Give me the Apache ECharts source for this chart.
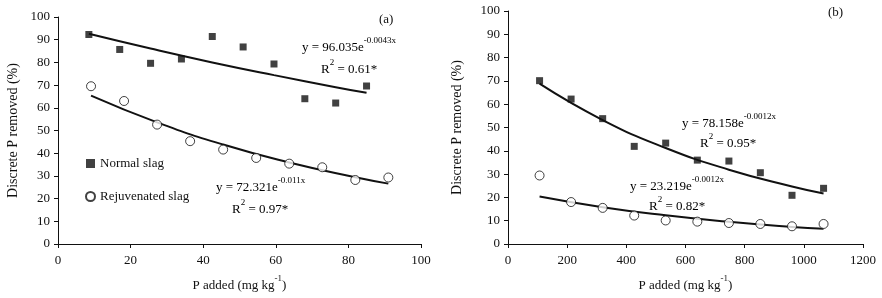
<!DOCTYPE html>
<html>
<head>
<meta charset="utf-8">
<script src="https://cdn.jsdelivr.net/npm/echarts@6/dist/echarts.min.js"></script>
<style>
  html, body { margin: 0; padding: 0; background: #fff; }
  #chart { width: 882px; height: 298px; }
</style>
</head>
<body>
<div id="chart"></div>
<script>
// (a) P added 0-100 mg/kg
const normalAX = [8.5, 17, 25.5, 34, 42.5, 51, 59.5, 68, 76.5, 85]
const normalAY = [92.3, 85.7, 79.6, 81.5, 91.4, 86.8, 79.3, 64.0, 62.1, 69.6]
const rejuvAX = [9.1, 18.2, 27.3, 36.4, 45.5, 54.6, 63.7, 72.8, 81.9, 91]
const rejuvAY = [69.5, 63.0, 52.6, 45.3, 41.6, 37.9, 35.4, 33.8, 28.2, 29.3]
// fitted curves as they appear on the figure
const fitNormalAX = [8.5, 25.5, 42.5, 59.5, 76.5, 85]
const fitNormalAY = [92.6, 86.1, 80.0, 74.4, 69.1, 66.6]
const fitRejuvAX = [9.1, 27.3, 45.5, 63.7, 81.9, 91]
const fitRejuvAY = [65.4, 53.6, 43.8, 35.9, 29.4, 26.6]

// (b) P added 0-1200 mg/kg
const normalBX = [106.7, 213.3, 320, 426.7, 533, 640, 746.7, 853, 960, 1066.7]
const normalBY = [70.1, 62.2, 53.8, 41.9, 43.3, 36.0, 35.6, 30.6, 20.9, 23.9]
const rejuvBX = [106.7, 213.3, 320, 426.7, 533, 640, 746.7, 853, 960, 1066.7]
const rejuvBY = [29.4, 18.0, 15.5, 12.2, 10.1, 9.6, 9.0, 8.6, 7.6, 8.6]
const fitNormalBX = [106.7, 320, 533, 746.7, 960, 1066.7]
const fitNormalBY = [68.8, 53.2, 41.2, 31.9, 24.7, 21.7]
const fitRejuvBX = [106.7, 320, 533, 746.7, 960, 1066.7]
const fitRejuvBY = [20.4, 15.8, 12.3, 9.5, 7.3, 6.5]

const font = 'Liberation Serif'
const black = '#111'

const zip = (xs, ys) => xs.map((x, i) => [x, ys[i]])

const richStyle = {
    n: { fontFamily: font, fontSize: 13, color: black, verticalAlign: 'bottom', lineHeight: 18 },
    s: { fontFamily: font, fontSize: 9, color: black, verticalAlign: 'top', lineHeight: 18 }
}

function xAxisOpt (gridIndex, max, interval) {
    return {
        type: 'value',
        gridIndex: gridIndex,
        min: 0,
        max: max,
        interval: interval,
        name: '{n|P added (mg kg}{s|-1}{n|)}',
        nameLocation: 'middle',
        nameGap: 30,
        nameTextStyle: { rich: richStyle },
        axisLine: { lineStyle: { color: black, width: 1 } },
        axisTick: { show: true, length: 4, lineStyle: { color: black } },
        axisLabel: {
            fontFamily: font,
            fontSize: 13,
            color: black,
            margin: 10,
            formatter: (v) => String(v)
        },
        splitLine: { show: false }
    }
}

function yAxisOpt (gridIndex, nameGap) {
    return {
        type: 'value',
        gridIndex: gridIndex,
        min: 0,
        max: 100,
        interval: 10,
        name: 'Discrete P removed (%)',
        nameLocation: 'middle',
        nameGap: nameGap,
        nameTextStyle: { fontFamily: font, fontSize: 14, color: black },
        axisLine: { show: true, lineStyle: { color: black, width: 1 } },
        axisTick: { show: true, length: 4, lineStyle: { color: black } },
        axisLabel: { fontFamily: font, fontSize: 13, color: black, margin: 8 },
        splitLine: { show: false }
    }
}

function scatter (name, idx, data, filled) {
    return {
        name: name,
        type: 'scatter',
        xAxisIndex: idx,
        yAxisIndex: idx,
        data: data,
        symbol: filled ? 'rect' : 'circle',
        symbolSize: filled ? 7 : 9,
        itemStyle: filled
            ? { color: black }
            : { color: '#fff', borderColor: black, borderWidth: 1 },
        z: 3
    }
}

function fit (idx, data) {
    return {
        type: 'line',
        xAxisIndex: idx,
        yAxisIndex: idx,
        data: data,
        smooth: true,
        showSymbol: false,
        lineStyle: { color: black, width: 2 },
        z: 2,
        silent: true
    }
}

function eqText (left, top, coef, expo) {
    return {
        type: 'text',
        left: left,
        top: top,
        style: {
            text: '{n|y = ' + coef + 'e}{s|' + expo + '}',
            rich: richStyle
        }
    }
}

function r2Text (left, top, val) {
    return {
        type: 'text',
        left: left,
        top: top,
        style: {
            text: '{n|R}{s|2}{n| = ' + val + '}',
            rich: richStyle
        }
    }
}

const options = {
    backgroundColor: '#fff',
    animation: false,
    grid: [
        { left: 58, top: 17, width: 363, height: 227 },
        { left: 508, top: 11, width: 355, height: 233 }
    ],
    legend: {
        data: ['Normal slag', 'Rejuvenated slag'],
        orient: 'vertical',
        left: 80,
        top: 152,
        itemGap: 20,
        itemWidth: 9,
        itemHeight: 9,
        textStyle: { fontFamily: font, fontSize: 13, color: black }
    },
    xAxis: [xAxisOpt(0, 100, 20), xAxisOpt(1, 1200, 200)],
    yAxis: [yAxisOpt(0, 38), yAxisOpt(1, 44)],
    series: [
        scatter('Normal slag', 0, zip(normalAX, normalAY), true),
        scatter('Rejuvenated slag', 0, zip(rejuvAX, rejuvAY), false),
        fit(0, zip(fitNormalAX, fitNormalAY)),
        fit(0, zip(fitRejuvAX, fitRejuvAY)),
        scatter('Normal slag', 1, zip(normalBX, normalBY), true),
        scatter('Rejuvenated slag', 1, zip(rejuvBX, rejuvBY), false),
        fit(1, zip(fitNormalBX, fitNormalBY)),
        fit(1, zip(fitRejuvBX, fitRejuvBY))
    ],
    graphic: [
        { type: 'text', left: 379, top: 13, style: { text: '(a)', fontFamily: font, fontSize: 13, fill: black } },
        { type: 'text', left: 828, top: 6, style: { text: '(b)', fontFamily: font, fontSize: 13, fill: black } },
        eqText(302, 36, '96.035', '-0.0043x'),
        r2Text(321, 58, '0.61*'),
        eqText(216, 176, '72.321', '-0.011x'),
        r2Text(232, 198, '0.97*'),
        eqText(682, 112, '78.158', '-0.0012x'),
        r2Text(700, 132, '0.95*'),
        eqText(630, 175, '23.219', '-0.0012x'),
        r2Text(649, 195, '0.82*')
    ]
}

const chart = echarts.init(document.getElementById('chart'))
chart.setOption(options, true)
</script>
</body>
</html>
